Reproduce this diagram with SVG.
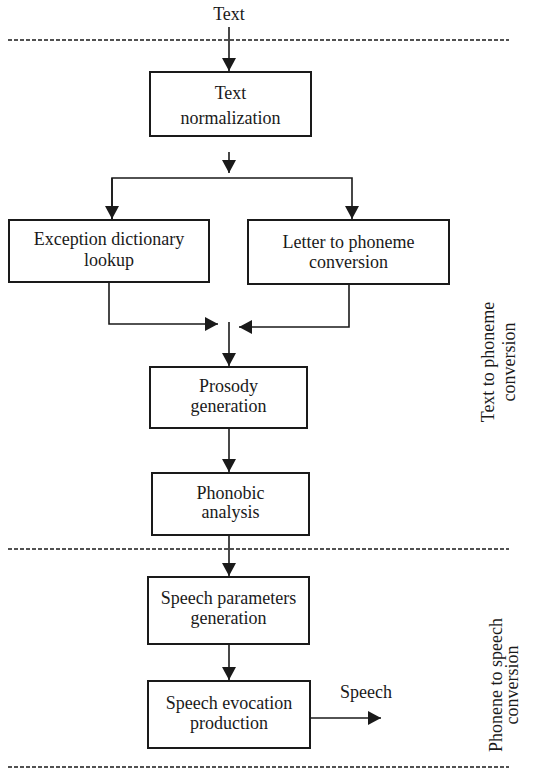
<svg xmlns="http://www.w3.org/2000/svg" width="534" height="770" viewBox="0 0 534 770">
<style>
.box{fill:#fff;stroke:#1a1a1a;stroke-width:2}
.t{font-family:"Liberation Serif","Times New Roman",serif;font-size:18px;fill:#1a1a1a;text-anchor:middle}
.c{fill:none;stroke:#1a1a1a;stroke-width:1.6}
.d{fill:none;stroke:#1a1a1a;stroke-width:1.6;stroke-dasharray:4 2}
</style>
<defs>
<marker id="ah" markerUnits="userSpaceOnUse" markerWidth="14" markerHeight="14" viewBox="0 0 14 14" refX="13" refY="7" orient="auto">
<path d="M0,0 L13,7 L0,14 Z" fill="#1a1a1a"/>
</marker>
</defs>
<rect width="534" height="770" fill="#fff"/>
<g id="dividers">
<line class="d" x1="8" y1="40" x2="509" y2="40"/>
<line class="d" x1="8" y1="549" x2="509" y2="549"/>
<line class="d" x1="8" y1="767" x2="509" y2="767"/>
</g>
<g id="connectors">
<line class="c" x1="229" y1="27" x2="229" y2="71" marker-end="url(#ah)"/>
<line class="c" x1="229" y1="152" x2="229" y2="173" marker-end="url(#ah)"/>
<path class="c" d="M112,219 L112,178 L352,178 L352,219" marker-end="url(#ah)"/>
<line class="c" x1="112" y1="178" x2="112" y2="219" marker-end="url(#ah)"/>
<path class="c" d="M109,282 L109,324 L218,324" marker-end="url(#ah)"/>
<path class="c" d="M349,284 L349,327 L239,327" marker-end="url(#ah)"/>
<line class="c" x1="229" y1="322" x2="229" y2="366" marker-end="url(#ah)"/>
<line class="c" x1="229" y1="428" x2="229" y2="472" marker-end="url(#ah)"/>
<line class="c" x1="229" y1="535" x2="229" y2="576" marker-end="url(#ah)"/>
<line class="c" x1="229" y1="644" x2="229" y2="680" marker-end="url(#ah)"/>
<line class="c" x1="310" y1="718" x2="381" y2="718" marker-end="url(#ah)"/>
</g>
<g id="label-text"><text class="t" x="229" y="20">Text</text></g>
<g id="text-normalization">
<rect class="box" x="150" y="72" width="161" height="64"/>
<text class="t" x="230.5" y="99">Text</text>
<text class="t" x="230.5" y="124">normalization</text>
</g>
<g id="exception-dictionary">
<rect class="box" x="9" y="220" width="200" height="62"/>
<text class="t" x="109" y="245">Exception dictionary</text>
<text class="t" x="109" y="266">lookup</text>
</g>
<g id="letter-to-phoneme">
<rect class="box" x="248" y="220" width="201" height="64"/>
<text class="t" x="348.5" y="248">Letter to phoneme</text>
<text class="t" x="348.5" y="268">conversion</text>
</g>
<g id="prosody">
<rect class="box" x="150" y="367" width="157" height="61"/>
<text class="t" x="228.5" y="392">Prosody</text>
<text class="t" x="228.5" y="412">generation</text>
</g>
<g id="phonobic">
<rect class="box" x="152" y="473" width="157" height="62"/>
<text class="t" x="230.5" y="499">Phonobic</text>
<text class="t" x="230.5" y="518">analysis</text>
</g>
<g id="speech-parameters">
<rect class="box" x="148" y="577" width="161" height="67"/>
<text class="t" x="228.5" y="604">Speech parameters</text>
<text class="t" x="228.5" y="624">generation</text>
</g>
<g id="speech-evocation">
<rect class="box" x="148" y="681" width="162" height="67"/>
<text class="t" x="229" y="709">Speech evocation</text>
<text class="t" x="229" y="729">production</text>
</g>
<g id="label-speech"><text class="t" x="366" y="698">Speech</text></g>
<g id="section-text-to-phoneme">
<text class="t" transform="translate(494,362) rotate(-90)">Text to phoneme</text>
<text class="t" transform="translate(515,362) rotate(-90)">conversion</text>
</g>
<g id="section-phonene-to-speech">
<text class="t" transform="translate(502,685) rotate(-90)">Phonene to speech</text>
<text class="t" transform="translate(518,685) rotate(-90)">conversion</text>
</g>
</svg>
